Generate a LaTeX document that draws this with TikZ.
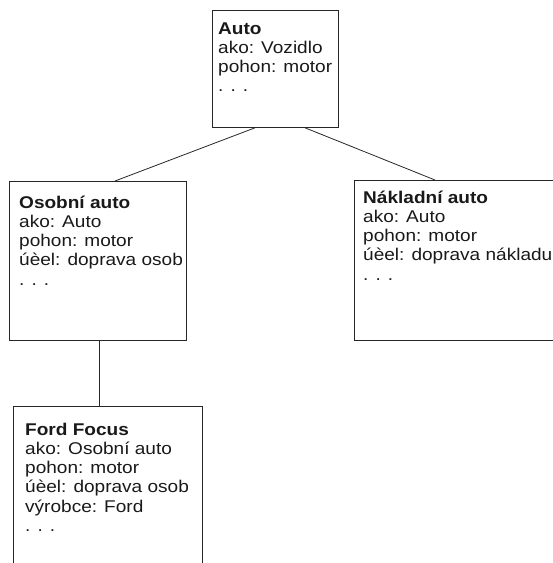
\documentclass[tikz,border=0pt]{standalone}
\usepackage{fontspec}
\setmainfont{Liberation Sans}[FakeStretch=1.12]
% one column of slot lines, baseline on the first line
\newcommand\slotlist[1]{\begin{tabular}[t]{@{}l@{}}#1\end{tabular}}
\begin{document}
\begin{tikzpicture}[x=1pt,y=-1pt,
  frame/.style={draw=black!85, line width=0.8pt, inner sep=0pt, anchor=north west},
  slots/.style={anchor=base west, inner sep=0pt, text=black!90,
                font=\fontsize{17}{19.3}\selectfont},
  link/.style={draw=black!85, line width=0.8pt}]
\useasboundingbox (0,0) rectangle (553,563);
\clip (0,0) rectangle (553,563);

% frames
\node[frame, minimum width=126pt, minimum height=117pt] (auto)   at (212,10)  {};
\node[frame, minimum width=177pt, minimum height=159pt] (osobni) at (9,181)   {};
\node[frame, minimum width=230pt, minimum height=160pt] (naklad) at (354,180) {};
\node[frame, minimum width=189pt, minimum height=180pt] (ford)   at (13,406)  {};

% slot texts
\node[slots] (autotxt) at (218,34) {\slotlist{\textbf{Auto}\\ ako: Vozidlo\\ pohon: motor\\ . . .}};
\node[slots] (osobnitxt) at (19,208) {\slotlist{\textbf{Osobní auto}\\ ako: Auto\\ pohon: motor\\ úèel: doprava osob\\ . . .}};
\node[slots] (nakladtxt) at (363,203) {\slotlist{\textbf{Nákladní auto}\\ ako: Auto\\ pohon: motor\\ úèel: doprava nákladu\\ . . .}};
\node[slots] (fordtxt) at (25,435) {\slotlist{\textbf{Ford Focus}\\ ako: Osobní auto\\ pohon: motor\\ úèel: doprava osob\\ výrobce: Ford\\ . . .}};

% inheritance links
\draw[link] ([xshift=43pt]auto.south west) -- ([xshift=106pt]osobni.north west);
\draw[link] ([xshift=93pt]auto.south west) -- ([xshift=81pt]naklad.north west);
\draw[link] ([xshift=90pt]osobni.south west) -- ([xshift=86pt]ford.north west);
\end{tikzpicture}
\end{document}
